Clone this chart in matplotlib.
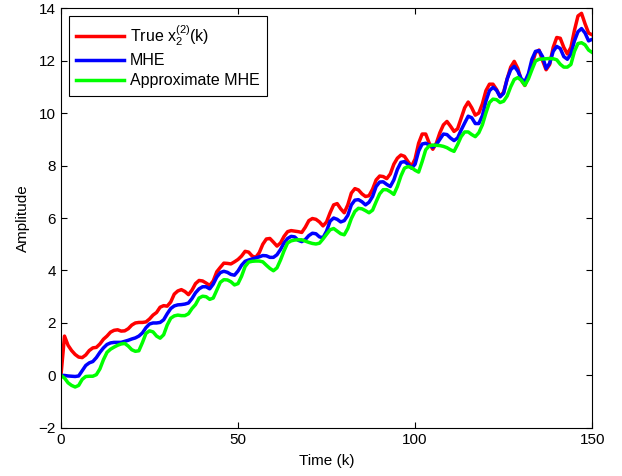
import matplotlib
matplotlib.use("Agg")
import matplotlib.pyplot as plt
import numpy as np

plt.rcParams["font.family"] = ["Liberation Sans", "DejaVu Sans"]
plt.rcParams["mathtext.fontset"] = "custom"
plt.rcParams["mathtext.rm"] = "Liberation Sans"
plt.rcParams["mathtext.it"] = "Liberation Sans"
plt.rcParams["mathtext.default"] = "regular"

# time steps k = 0..150
k = np.arange(0, 151)

# values, one per time step
true_x = [
    0, 1.5, 1.15, 0.95, 0.8, 0.7, 0.68, 0.78, 0.95, 1.05,
    1.07, 1.2, 1.38, 1.5, 1.65, 1.72, 1.74, 1.69, 1.7, 1.78,
    1.92, 2.0, 2.02, 2.02, 2.04, 2.15, 2.3, 2.4, 2.6, 2.66,
    2.64, 2.8, 3.1, 3.22, 3.27, 3.2, 3.08, 3.25, 3.5, 3.62,
    3.6, 3.52, 3.43, 3.6, 3.95, 4.12, 4.28, 4.27, 4.25, 4.33,
    4.42, 4.55, 4.73, 4.7, 4.55, 4.5, 4.68, 5.0, 5.2, 5.22,
    5.08, 4.93, 5.05, 5.3, 5.48, 5.52, 5.5, 5.48, 5.45, 5.65,
    5.9, 5.98, 5.95, 5.85, 5.7, 5.85, 6.2, 6.5, 6.55, 6.35,
    6.2, 6.5, 6.95, 7.12, 7.07, 6.92, 6.82, 6.85, 7.1, 7.45,
    7.6, 7.58, 7.5, 7.68, 8.05, 8.28, 8.4, 8.35, 8.15, 7.97,
    8.25, 8.85, 9.2, 9.2, 8.85, 8.62, 8.85, 9.25, 9.55, 9.68,
    9.5, 9.3, 9.4, 9.8, 10.2, 10.42, 10.2, 9.92, 10.0, 10.35,
    10.85, 11.1, 11.1, 10.9, 10.63, 10.8, 11.3, 11.75, 11.97, 11.7,
    11.25, 11.05, 11.4, 11.85, 12.3, 12.4, 12.0, 11.65, 11.85, 12.5,
    12.88, 12.85, 12.5, 12.25, 12.5, 13.15, 13.7, 13.8, 13.4, 13.05,
    12.98,
]

mhe = [
    0, 0.0, -0.02, -0.03, -0.04, -0.02, 0.18, 0.38, 0.48, 0.53,
    0.68, 0.88, 1.05, 1.18, 1.24, 1.26, 1.26, 1.26, 1.3, 1.34,
    1.39, 1.43, 1.5, 1.62, 1.82, 1.96, 2.0, 2.0, 2.02, 2.12,
    2.35, 2.55, 2.65, 2.69, 2.7, 2.72, 2.76, 2.93, 3.15, 3.3,
    3.38, 3.38, 3.3, 3.48, 3.75, 3.92, 3.97, 3.93, 3.85, 3.82,
    3.98, 4.2, 4.35, 4.4, 4.44, 4.48, 4.52, 4.57, 4.56, 4.5,
    4.5, 4.6, 4.8, 5.05, 5.22, 5.3, 5.28, 5.15, 5.1, 5.18,
    5.33, 5.42, 5.4, 5.28, 5.25, 5.5, 5.88, 6.0, 5.95, 5.85,
    5.9, 6.1, 6.5, 6.68, 6.7, 6.62, 6.5, 6.6, 6.82, 7.2,
    7.37, 7.38, 7.28, 7.2, 7.45, 7.85, 8.12, 8.15, 8.05, 7.9,
    8.05, 8.55, 8.82, 8.85, 8.78, 8.7, 8.8, 9.0, 9.2, 9.18,
    9.05, 8.95, 9.05, 9.35, 9.62, 9.88, 9.82, 9.6, 9.6, 9.9,
    10.45, 10.85, 10.98, 10.87, 10.62, 10.75, 11.3, 11.65, 11.78, 11.6,
    11.3, 11.2, 11.5, 12.05, 12.35, 12.38, 12.15, 11.7, 11.9, 12.35,
    12.54, 12.46, 12.15, 12.05, 12.25, 12.75, 13.1, 13.22, 13.05, 12.75,
    12.81,
]

approx_mhe = [
    0, -0.1, -0.28, -0.38, -0.44, -0.38, -0.15, -0.04, -0.03, -0.03,
    0.03, 0.25, 0.6, 0.88, 1.0, 1.08, 1.15, 1.2, 1.22, 1.12,
    0.98, 0.92, 0.94, 1.25, 1.6, 1.7, 1.66, 1.5, 1.42, 1.55,
    1.92, 2.18, 2.27, 2.3, 2.28, 2.28, 2.35, 2.55, 2.7, 2.95,
    3.02, 3.0, 2.9, 2.95, 3.25, 3.55, 3.65, 3.64, 3.57, 3.45,
    3.5, 3.78, 4.15, 4.32, 4.35, 4.36, 4.36, 4.33, 4.2, 4.08,
    3.99, 4.1, 4.4, 4.75, 5.05, 5.13, 5.16, 5.17, 5.17, 5.12,
    5.07, 5.03, 5.01, 5.04, 5.2, 5.38, 5.55, 5.6, 5.5, 5.4,
    5.36, 5.6, 5.98, 6.25, 6.37, 6.35, 6.28, 6.2, 6.3, 6.62,
    6.92, 7.08, 7.08, 7.0, 6.9, 7.2, 7.6, 7.9, 7.96, 7.92,
    7.82, 7.75, 8.15, 8.6, 8.75, 8.78, 8.77, 8.76, 8.73, 8.68,
    8.6, 8.54, 8.8, 9.1, 9.28, 9.28, 9.18, 9.1, 9.25, 9.55,
    10.0, 10.4, 10.53, 10.51, 10.4, 10.45, 10.65, 11.0, 11.28, 11.35,
    11.25, 11.06, 11.3, 11.65, 11.98, 12.05, 12.06, 12.07, 12.08, 12.07,
    12.03, 11.86, 11.75, 11.75, 11.85, 12.35, 12.65, 12.68, 12.6, 12.4,
    12.31,
]

labels = [r"True x$_2^{(2)}$(k)", "MHE", "Approximate MHE"]

fig = plt.figure(figsize=(6.22, 4.76), dpi=100)
ax = fig.add_axes([0.098, 0.101, 0.854, 0.882])

ax.plot(k, true_x, color="#ff0000", linewidth=2.5, label=labels[0])
ax.plot(k, mhe, color="#0000ff", linewidth=2.5, label=labels[1])
ax.plot(k, approx_mhe, color="#00ff00", linewidth=2.5, label=labels[2])

ax.set_xlim(0, 150)
ax.set_ylim(-2, 14)
ax.set_xticks([0, 50, 100, 150])
ax.set_yticks(np.arange(-2, 15, 2))
ax.tick_params(direction="in", length=4, width=0.8, top=True, right=True, labelsize=11)
for s in ax.spines.values():
    s.set_linewidth(0.8)

ax.set_xlabel("Time (k)", fontsize=11, labelpad=5)
ax.set_ylabel("Amplitude", fontsize=11, labelpad=6)

leg = ax.legend(loc="upper left", fontsize=11.5, fancybox=False, framealpha=1,
                edgecolor="black", handlelength=3.0, borderaxespad=0.5,
                borderpad=0.45, labelspacing=0.32, handletextpad=0.35)
leg.get_frame().set_linewidth(0.8)

plt.savefig("out.png", dpi=100)
